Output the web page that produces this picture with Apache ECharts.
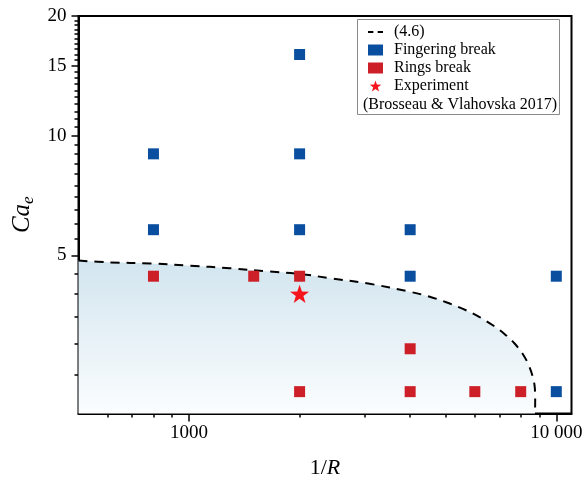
<!DOCTYPE html>
<html>
<head>
<meta charset="utf-8">
<script src="https://cdn.jsdelivr.net/npm/echarts@6/dist/echarts.min.js"></script>
<style>
  html, body { margin: 0; padding: 0; background: #fff; }
  #chart { width: 586px; height: 479px; }
</style>
</head>
<body>
<div id="chart"></div>
<script>
// Drop breakup regimes: electric capillary number against inverse radius
const fingeringBreak = [[800, 9.0], [800, 5.8], [2000, 16], [2000, 9.0], [2000, 5.8],
                        [4000, 5.8], [4000, 4.43], [10000, 4.43], [10000, 2.27]];
const ringsBreak = [[800, 4.43], [1500, 4.43], [2000, 4.43], [2000, 2.27],
                    [4000, 2.91], [4000, 2.27], [6000, 2.27], [8000, 2.27]];
const experiment = [[2000, 4.0]];

// Stability boundary, eq. (4.6)
const curveX = [500, 610, 784, 1006, 1292, 1660, 2002, 2416, 3103, 3985, 4500, 5015, 5550,
                6100, 6700, 7200, 7700, 8150, 8450, 8650, 8740, 8760, 8750];
const curveY = [4.85, 4.80, 4.77, 4.71, 4.64, 4.55, 4.49, 4.38, 4.24, 4.05, 3.94, 3.81, 3.67,
                3.52, 3.34, 3.18, 3.00, 2.80, 2.62, 2.45, 2.32, 2.15, 2.0];

const xMajor = [1000, 10000];
const xMinor = [600, 700, 800, 900, 2000, 3000, 4000, 5000, 6000, 7000, 8000, 9000];
const yMajor = [5, 10, 15, 20];
const yMinor = [2.5, 3, 3.5, 4, 4.5, 5.5, 6, 6.5, 7, 7.5, 8, 8.5, 9, 9.5,
                10.5, 11, 11.5, 12, 12.5, 13, 13.5, 14, 14.5, 15.5, 16, 16.5,
                17, 17.5, 18, 18.5, 19, 19.5];

const SERIF = '"Liberation Serif", "Times New Roman", serif';
const BLUE = '#0a4f9f';
const RED = '#cd1f28';
const STAR = 'path://M0,-10 L2.35,-3.24 L9.51,-3.09 L3.8,1.24 L5.88,8.09 L0,4 L-5.88,8.09 L-3.8,1.24 L-9.51,-3.09 L-2.35,-3.24 Z';

const boundary = curveX.map((x, i) => [x, curveY[i]]);

const chart = echarts.init(document.getElementById('chart'), null, { renderer: 'canvas' });

const fmtNum = v => v >= 10000 ? String(v).replace(/(\d)(?=(\d{3})+$)/g, '$1 ') : String(v);

const xBase = { type: 'log', min: 500, max: 11000, logBase: 10, splitLine: { show: false } };
const yBase = { type: 'log', min: 2, max: 20, logBase: 10, splitLine: { show: false } };

chart.setOption({
  animation: false,
  textStyle: { fontFamily: SERIF },
  grid: {
    left: 78.5, right: 14.5, top: 16, bottom: 65.5,
    outerBoundsMode: 'none',
    containLabel: false,
    show: true, borderColor: '#000', borderWidth: 2, backgroundColor: 'transparent'
  },
  xAxis: [
    Object.assign({}, xBase, {
      name: '{n|1/}{i|R}',
      nameLocation: 'middle',
      nameGap: 44,
      nameTextStyle: {
        rich: {
          n: { fontFamily: SERIF, fontSize: 22, color: '#000' },
          i: { fontFamily: SERIF, fontSize: 22, fontStyle: 'italic', color: '#000' }
        }
      },
      axisLine: { show: true, lineStyle: { color: '#000', width: 2 } },
      axisTick: { show: true, customValues: xMajor, length: 8, lineStyle: { color: '#000', width: 1.5 } },
      axisLabel: {
        show: true, customValues: xMajor, margin: 10,
        fontFamily: SERIF, fontSize: 19, color: '#000', formatter: fmtNum
      }
    }),
    Object.assign({}, xBase, {
      position: 'bottom',
      axisLine: { show: false },
      axisTick: { show: true, customValues: xMinor, length: 4, lineStyle: { color: '#000', width: 1.5 } },
      axisLabel: { show: false }
    })
  ],
  yAxis: [
    Object.assign({}, yBase, {
      name: '{a|Ca}{b|e}',
      nameLocation: 'middle',
      nameRotate: 90,
      nameGap: 41,
      nameTextStyle: {
        rich: {
          a: { fontFamily: SERIF, fontSize: 25, fontStyle: 'italic', color: '#000' },
          b: { fontFamily: SERIF, fontSize: 17, fontStyle: 'italic', color: '#000', padding: [12, 0, 0, 0] }
        }
      },
      axisLine: { show: true, lineStyle: { color: '#000', width: 2 } },
      axisTick: { show: true, customValues: yMajor, length: 7, lineStyle: { color: '#000', width: 1.5 } },
      axisLabel: {
        show: true, customValues: yMajor, margin: 12,
        fontFamily: SERIF, fontSize: 19, color: '#000'
      }
    }),
    Object.assign({}, yBase, {
      position: 'left',
      axisLine: { show: false },
      axisTick: { show: true, customValues: yMinor, length: 4, lineStyle: { color: '#000', width: 1.5 } },
      axisLabel: { show: false }
    })
  ],
  legend: {
    orient: 'vertical',
    left: 363, top: 19,
    itemWidth: 15, itemHeight: 11, itemGap: 2,
    z: 6,
    textStyle: { fontFamily: SERIF, fontSize: 16, color: '#000', lineHeight: 16, padding: [0, 0, 0, 6] },
    data: [
      { name: '(4.6)', icon: 'path://M0,0 h5 v2 h-5 Z M9,0 h5 v2 h-5 Z', itemStyle: { color: '#000' } },
      { name: 'Fingering break', icon: 'rect', itemStyle: { color: BLUE, opacity: 1 } },
      { name: 'Rings break', icon: 'rect', itemStyle: { color: RED, opacity: 1 } },
      { name: 'Experiment', icon: STAR, itemStyle: { color: '#f5141b', opacity: 1 } }
    ]
  },
  graphic: [
    {
      type: 'rect', z: 5,
      shape: { x: 357.5, y: 19.5, width: 202, height: 95 },
      style: { fill: '#fff', stroke: '#8a8a8a', lineWidth: 1 }
    },
    {
      type: 'text', z: 7, left: 363, top: 97,
      style: { text: '(Brosseau & Vlahovska 2017)', font: '16px ' + SERIF, fill: '#000' }
    }
  ],
  series: [
    {
      name: '(4.6)',
      type: 'line',
      data: boundary,
      showSymbol: false,
      symbol: 'none',
      smooth: 0.35,
      z: 1,
      itemStyle: { color: '#000' },
      lineStyle: { color: '#000', width: 2, type: [9, 7] },
      areaStyle: {
        origin: 'start',
        opacity: 1,
        color: new echarts.graphic.LinearGradient(0, 0, 0, 1, [
          { offset: 0, color: '#d2e5ef' },
          { offset: 1, color: '#fbfdfe' }
        ])
      }
    },
    {
      name: 'Fingering break',
      type: 'scatter',
      data: fingeringBreak,
      symbol: 'rect',
      symbolSize: 11,
      z: 3,
      itemStyle: { color: BLUE, opacity: 1 }
    },
    {
      name: 'Rings break',
      type: 'scatter',
      data: ringsBreak,
      symbol: 'rect',
      symbolSize: 11,
      z: 3,
      itemStyle: { color: RED, opacity: 1 }
    },
    {
      name: 'Experiment',
      type: 'scatter',
      data: experiment,
      symbol: STAR,
      symbolSize: 19,
      symbolKeepAspect: true,
      z: 4,
      itemStyle: { color: '#f5141b', opacity: 1 }
    }
  ]
});
</script>
</body>
</html>
